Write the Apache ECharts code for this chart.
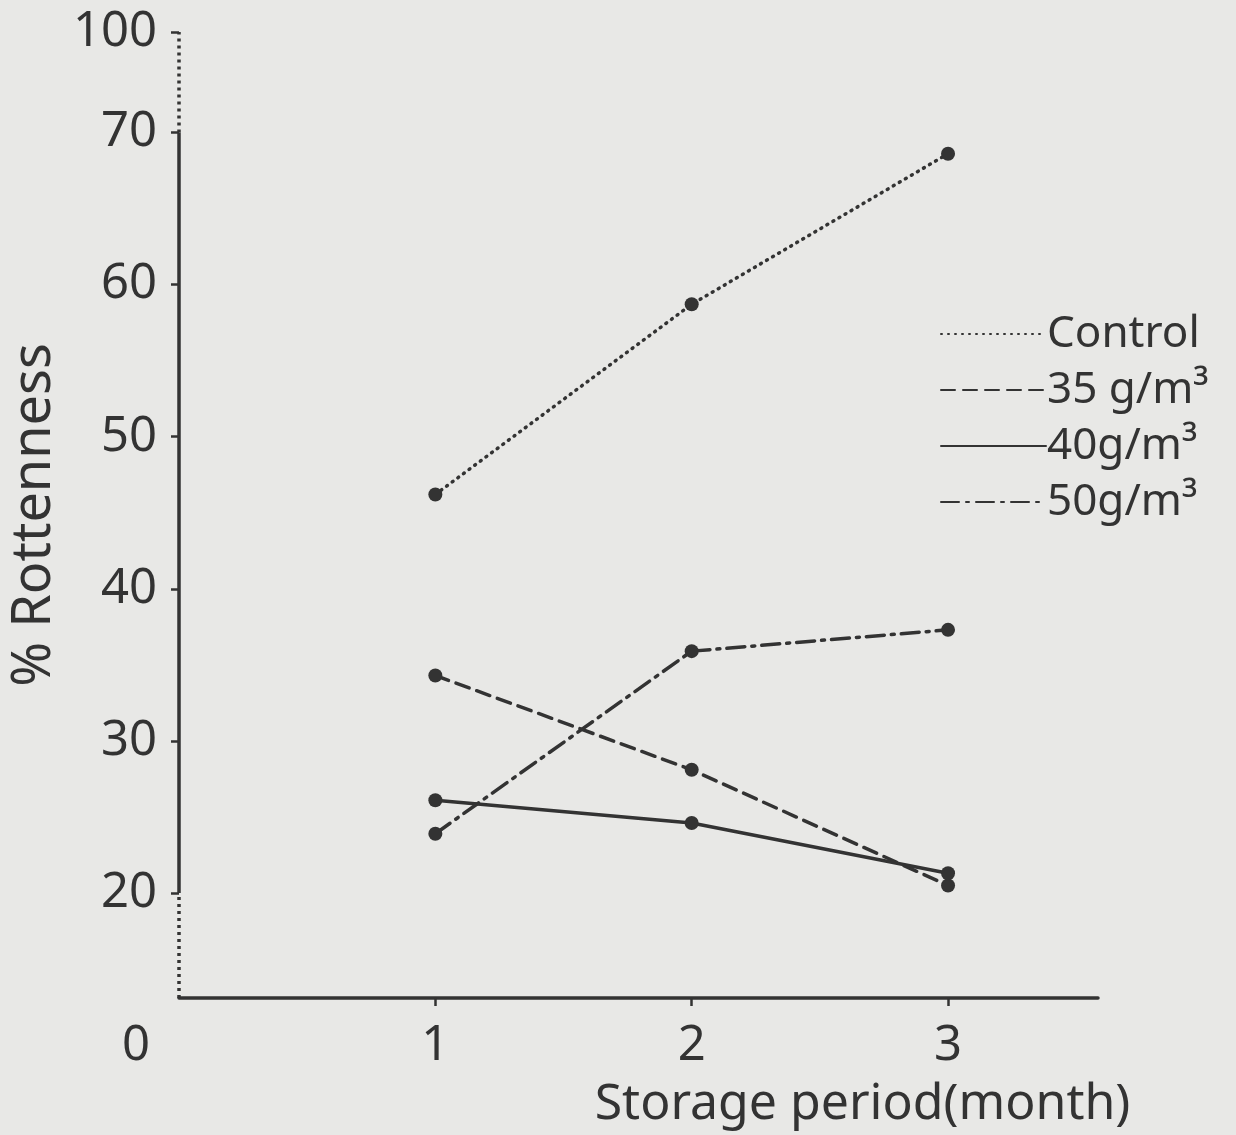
<!DOCTYPE html>
<html><head><meta charset="utf-8">
<script src="https://cdn.jsdelivr.net/npm/echarts@6/dist/echarts.min.js"></script>
<style>html,body{margin:0;padding:0;background:#e8e8e6}#c{width:1236px;height:1135px}</style>
</head><body><div id="c"></div>
<script>
// Data
const months = [1, 2, 3];
const control = [46.2, 58.7, 68.6];
const g35 = [34.3, 28.1, 20.5];
const g40 = [26.1, 24.6, 21.3];
const g50 = [23.9, 35.9, 37.3];
const seriesNames = ['Control', '35 g/m³', '40g/m³', '50g/m³'];
const yTickValues = [20, 30, 40, 50, 60, 70];
const xTickValues = [0, 1, 2, 3];
// Broken axis: the origin "0" and the top "100" sit on compressed segments
const yOrigin = 13.1;
const yTop = 76.6;
const yTopLabel = '100';
const xMax = 3.585;

const INK = '#333';
const LW = 3.5;
const lineTypes = [[1, 6], [14, 8], 'solid', [18, 7, 3, 7]];
const seriesValues = [control, g35, g40, g50];

const chart = echarts.init(document.getElementById('c'), null, {renderer: 'canvas'});
const font = 'Noto Sans';

const series = seriesValues.map((vals, i) => ({
  name: seriesNames[i],
  type: 'line',
  data: months.map((m, j) => [m, vals[j]]),
  symbol: 'circle',
  symbolSize: 14,
  itemStyle: {color: INK},
  lineStyle: {color: INK, width: LW, type: lineTypes[i], cap: 'round'},
  silent: true,
  z: 3
}));

// y axis line drawn as three segments (dotted – solid – dotted)
series.push({
  type: 'line',
  data: [],
  silent: true,
  markLine: {
    silent: true,
    symbol: ['none', 'none'],
    label: {show: false},
    animation: false,
    lineStyle: {width: LW, color: INK},
    data: [
      [{coord: [0, yOrigin], lineStyle: {type: [3, 4], width: LW, color: INK}}, {coord: [0, 20]}],
      [{coord: [0, 20], lineStyle: {type: 'solid', width: LW, color: INK}}, {coord: [0, 70]}],
      [{coord: [0, 70], lineStyle: {type: [3, 4], width: LW, color: INK}}, {coord: [0, yTop]}]
    ]
  }
});

chart.setOption({
  backgroundColor: '#e8e8e6',
  animation: false,
  textStyle: {fontFamily: font},
  grid: {left: 179, right: 138, top: 32, bottom: 134},
  legend: {
    orient: 'vertical',
    left: 940,
    top: 312,
    data: seriesNames,
    itemWidth: 105,
    itemHeight: 4,
    itemGap: 12,
    padding: 0,
    itemStyle: {opacity: 0},
    textStyle: {fontFamily: font, fontSize: 44, color: INK, padding: [0, 0, 0, -4]},
    selectedMode: false
  },
  xAxis: {
    type: 'value',
    min: 0,
    max: xMax,
    name: 'Storage period(month)',
    nameLocation: 'middle',
    nameGap: 82,
    nameTextStyle: {fontFamily: font, fontSize: 50, color: INK, padding: [0, 0, 0, 448]},
    axisLine: {show: true, onZero: false, lineStyle: {color: INK, width: LW}},
    axisTick: {show: true, inside: false, length: 8, lineStyle: {color: INK, width: 2.5}, customValues: [1, 2, 3]},
    axisLabel: {
      show: true,
      margin: 24,
      fontFamily: font,
      fontSize: 49,
      color: INK,
      customValues: xTickValues,
      formatter: v => v === 0 ? '{o|0}' : String(v),
      rich: {o: {fontFamily: font, fontSize: 49, color: INK, padding: [0, 86, 0, 0]}}
    },
    splitLine: {show: false}
  },
  yAxis: {
    type: 'value',
    min: yOrigin,
    max: yTop,
    name: '% Rottenness',
    nameLocation: 'middle',
    nameRotate: 90,
    nameGap: 104,
    nameTextStyle: {fontFamily: font, fontSize: 54, color: INK},
    axisLine: {show: false},
    axisTick: {show: true, inside: false, length: 8, lineStyle: {color: INK, width: 2.5}, customValues: yTickValues.concat([yTop])},
    axisLabel: {
      show: true,
      margin: 22,
      fontFamily: font,
      fontSize: 49,
      color: INK,
      customValues: yTickValues.concat([yTop]),
      formatter: v => Math.abs(v - yTop) < 0.01 ? yTopLabel : String(v)
    },
    splitLine: {show: false}
  },
  series: series
});
</script>
</body></html>
